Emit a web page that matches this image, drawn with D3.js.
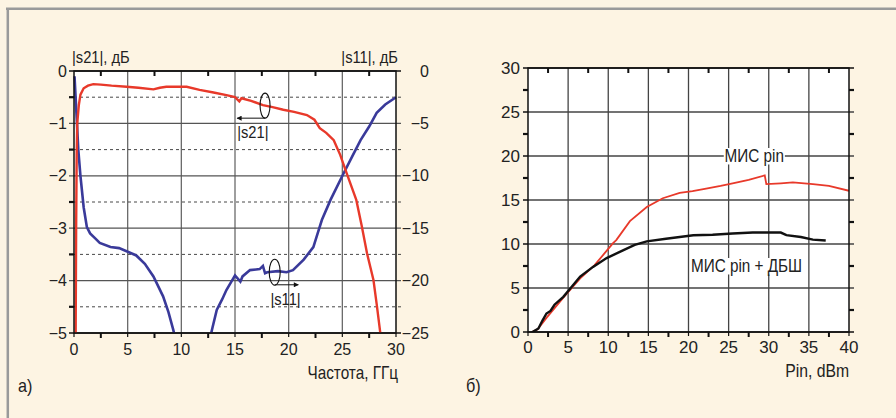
<!DOCTYPE html>
<html><head><meta charset="utf-8">
<script src="https://cdn.jsdelivr.net/npm/d3@7"></script>
<style>
html,body{margin:0;padding:0;background:#fdf4e3;}
svg{display:block;}
text{font-family:"Liberation Sans",Arial,sans-serif;fill:#222;}
</style></head>
<body>
<svg id="chart" width="896" height="418"></svg>
<script>
// ---------- data: panel a) ----------
const freqTicks = [0,5,10,15,20,25,30];
const s21Ticks = [0,-1,-2,-3,-4,-5];
const s11Ticks = [0,-5,-10,-15,-20,-25];
// |s21| (dB) vs frequency (GHz)
const s21 = [[0.15,-5.2],[0.2,-3],[0.25,-1.6],[0.3,-1.0],[0.45,-0.65],[0.6,-0.45],[0.9,-0.33],[1.3,-0.28],[1.8,-0.25],[2.5,-0.26],[3.5,-0.28],[4.9,-0.30],[6,-0.32],[7.4,-0.35],[8.0,-0.32],[8.6,-0.30],[10.5,-0.30],[11.7,-0.36],[13,-0.41],[14.2,-0.46],[15.0,-0.50],[15.4,-0.58],[15.6,-0.52],[16.5,-0.57],[17.6,-0.65],[18.5,-0.69],[19.5,-0.74],[20.5,-0.78],[21.7,-0.84],[22.4,-0.93],[22.9,-1.09],[23.5,-1.18],[24.2,-1.32],[24.8,-1.6],[25.4,-1.95],[26.3,-2.46],[26.8,-2.95],[27.3,-3.48],[27.9,-3.99],[28.2,-4.45],[28.6,-5.1]];
// |s11| (dB) vs frequency (GHz)
const s11 = [[0.05,-0.5],[0.15,-2.5],[0.25,-4.5],[0.4,-7.5],[0.6,-10],[0.9,-13],[1.2,-14.9],[1.5,-15.5],[2.0,-16.0],[2.4,-16.4],[3.4,-16.8],[4.2,-16.9],[4.9,-17.2],[5.8,-17.6],[6.6,-18.4],[7.4,-19.6],[8.3,-21.5],[8.8,-23],[9.25,-24.7],[9.5,-25.8],[12.6,-25.8],[12.9,-24.5],[13.3,-22.8],[13.8,-21.8],[14.2,-20.9],[15.0,-19.5],[15.5,-20.1],[15.7,-19.6],[16.4,-19.0],[17.3,-18.9],[17.6,-18.6],[17.8,-19.3],[18.0,-19.2],[19.0,-19.1],[19.8,-19.2],[20.4,-19.0],[21.4,-18.0],[22.3,-16.8],[22.7,-15.5],[23.1,-14.2],[23.9,-12.3],[25.1,-9.8],[25.9,-8.2],[26.7,-6.6],[27.5,-5.3],[28.2,-4.0],[29.0,-3.2],[30,-2.5]];

// ---------- data: panel б) ----------
const pinTicks = [0,5,10,15,20,25,30,35,40];
const poutTicks = [0,5,10,15,20,25,30];
// МИС pin
const misPin = [[0.5,0],[1.2,0.3],[2.3,1.6],[4.4,3.9],[6.5,6.1],[8.3,7.6],[9.5,8.9],[10.6,10.1],[11.0,10.45],[12.7,12.6],[14.8,14.2],[16.8,15.2],[18.9,15.8],[20.5,16.0],[22.2,16.3],[24,16.6],[25.5,16.9],[27.5,17.3],[29.5,17.8],[29.7,16.8],[31.5,16.9],[33.0,17.0],[35.5,16.8],[37.5,16.6],[40.0,16.05]];
// МИС pin + ДБШ
const misPinDbsh = [[0.4,-0.1],[1.3,0.4],[1.8,1.3],[2.3,2.1],[2.8,2.4],[3.3,3.1],[4.4,4.0],[5.5,5.2],[6.5,6.3],[8.1,7.4],[9.8,8.4],[11.9,9.3],[13.3,9.9],[14.8,10.3],[17.2,10.6],[20.6,11.0],[23,11.05],[25.5,11.2],[28,11.3],[30.1,11.3],[31.5,11.3],[32.2,11.0],[34,10.8],[35.5,10.5],[37.1,10.4]];

// ---------- drawing ----------
const svg = d3.select("#chart");
// condensed text helper
function ctext(parent, x, y, s, size, sx, anchor){
  return parent.append("text")
    .attr("transform",`translate(${x},${y}) scale(${sx},1)`)
    .attr("text-anchor",anchor||"start").attr("font-size",size).text(s);
}
// page border
svg.append("line").attr("x1",6).attr("x2",896).attr("y1",8.8).attr("y2",8.8).attr("stroke","#9a9a9a").attr("stroke-width",2.5);
svg.append("line").attr("x1",7.8).attr("x2",7.8).attr("y1",8).attr("y2",418).attr("stroke","#9a9a9a").attr("stroke-width",2.5);

// ===== Panel a =====
const ax = d3.scaleLinear().domain([0,30]).range([74,396]);
const ay = d3.scaleLinear().domain([-5,0]).range([333,71]);
const ay2 = d3.scaleLinear().domain([-25,0]).range([333,71]);
const gA = svg.append("g");
gA.append("rect").attr("x",ax(0)).attr("y",ay(0)).attr("width",ax(30)-ax(0)).attr("height",ay(-5)-ay(0)).attr("fill","#fff");
gA.selectAll(".vg").data(freqTicks.slice(1,-1)).join("line")
  .attr("x1",d=>ax(d)).attr("x2",d=>ax(d)).attr("y1",ay(0)).attr("y2",ay(-5))
  .attr("stroke","#6a6a6a").attr("stroke-width",1.3);
gA.selectAll(".hg").data(s21Ticks.slice(1,-1)).join("line")
  .attr("x1",ax(0)-5).attr("x2",ax(30)+5).attr("y1",d=>ay(d)).attr("y2",d=>ay(d))
  .attr("stroke","#555").attr("stroke-width",1.3);
const halfA = [-0.5,-1.5,-2.5,-3.5,-4.5];
gA.selectAll(".dg").data(halfA).join("line")
  .attr("x1",ax(0)).attr("x2",ax(30)+5).attr("y1",d=>ay(d)).attr("y2",d=>ay(d))
  .attr("stroke","#333").attr("stroke-width",0.9).attr("stroke-dasharray","3,3");
gA.selectAll(".lm").data(halfA).join("line")
  .attr("x1",ax(0)-5).attr("x2",ax(0)).attr("y1",d=>ay(d)).attr("y2",d=>ay(d))
  .attr("stroke","#111").attr("stroke-width",2.2);
gA.selectAll(".mt").data([0,-5]).join("line")
  .attr("x1",ax(0)-5).attr("x2",ax(30)+5).attr("y1",d=>ay(d)).attr("y2",d=>ay(d))
  .attr("stroke","#111").attr("stroke-width",1.5);
const halfX = [2.5,7.5,12.5,17.5,22.5,27.5];
gA.selectAll(".tx").data(halfX).join("line")
  .attr("x1",d=>ax(d)).attr("x2",d=>ax(d)).attr("y1",ay(0)).attr("y2",ay(0)+5)
  .attr("stroke","#111").attr("stroke-width",2);
gA.selectAll(".bx").data(halfX).join("line")
  .attr("x1",d=>ax(d)).attr("x2",d=>ax(d)).attr("y1",ay(-5)).attr("y2",ay(-5)+5)
  .attr("stroke","#111").attr("stroke-width",2);
gA.selectAll(".bxm").data(freqTicks).join("line")
  .attr("x1",d=>ax(d)).attr("x2",d=>ax(d)).attr("y1",ay(-5)).attr("y2",ay(-5)+4)
  .attr("stroke","#111").attr("stroke-width",1.2);
svg.append("clipPath").attr("id","clipA").append("rect")
  .attr("x",ax(0)-1).attr("y",ay(0)).attr("width",ax(30)-ax(0)+2).attr("height",ay(-5)-ay(0));
const lineS21 = d3.line().x(d=>ax(d[0])).y(d=>ay(d[1]));
const lineS11 = d3.line().x(d=>ax(d[0])).y(d=>ay2(d[1]));
gA.append("path").datum(s11).attr("d",lineS11).attr("fill","none").attr("stroke","#3a3a9a").attr("stroke-width",2.6).attr("clip-path","url(#clipA)");
gA.append("path").datum(s21).attr("d",lineS21).attr("fill","none").attr("stroke","#e8392a").attr("stroke-width",2.4).attr("clip-path","url(#clipA)");
gA.append("rect").attr("x",ax(0)).attr("y",ay(0)).attr("width",ax(30)-ax(0)).attr("height",ay(-5)-ay(0)).attr("fill","none").attr("stroke","#111").attr("stroke-width",1.5);
const fmt = d => d<0 ? "\u2212"+Math.abs(d) : String(d);
gA.selectAll(".yl").data(s21Ticks).join("text")
  .attr("x",ax(0)-7).attr("y",d=>ay(d)).attr("dy","0.35em").attr("text-anchor","end")
  .attr("font-size",16).text(fmt);
gA.selectAll(".yr").data(s11Ticks).join("text")
  .attr("x",ax(30)+33).attr("y",d=>ay2(d)).attr("dy","0.35em").attr("text-anchor","end")
  .attr("font-size",16).text(fmt);
gA.selectAll(".xl").data(freqTicks).join("text")
  .attr("x",d=>ax(d)).attr("y",ay(-5)+22).attr("text-anchor","middle")
  .attr("font-size",16).text(d=>d);
ctext(gA, ax(0)-2, 63, "|s21|, дБ", 16, 0.92, "start");
ctext(gA, ax(30)+2, 63, "|s11|, дБ", 16, 0.92, "end");
ctext(gA, ax(30)+2, 379, "Частота, ГГц", 18, 0.85, "end");
ctext(svg, 18, 392, "а)", 18, 0.9, "start");
const defs = svg.append("defs");
defs.append("marker").attr("id","arr").attr("viewBox","0 0 10 10").attr("refX",9).attr("refY",5)
  .attr("markerWidth",7).attr("markerHeight",5).attr("orient","auto")
  .append("path").attr("d","M0,0L10,5L0,10z").attr("fill","#111");
gA.append("ellipse").attr("cx",ax(17.8)).attr("cy",ay(-0.66)).attr("rx",5).attr("ry",12.5).attr("fill","none").attr("stroke","#111").attr("stroke-width",1.1);
gA.append("line").attr("x1",ax(17.8)).attr("x2",ax(15.2)).attr("y1",ay(-0.9)).attr("y2",ay(-0.9)).attr("stroke","#111").attr("stroke-width",1).attr("marker-end","url(#arr)");
ctext(gA, ax(15.2), ay(-1.28), "|s21|", 16, 0.92, "start");
gA.append("ellipse").attr("cx",ax(18.7)).attr("cy",ay2(-19.2)).attr("rx",5.5).attr("ry",13).attr("fill","none").attr("stroke","#111").attr("stroke-width",1.1);
gA.append("line").attr("x1",ax(18.7)).attr("x2",ax(20.9)).attr("y1",ay2(-20.4)).attr("y2",ay2(-20.4)).attr("stroke","#111").attr("stroke-width",1).attr("marker-end","url(#arr)");
ctext(gA, ax(18.3), ay2(-22.3), "|s11|", 16, 0.92, "start");

// ===== Panel b =====
const bx = d3.scaleLinear().domain([0,40]).range([528,849]);
const by = d3.scaleLinear().domain([0,30]).range([332,68]);
const gB = svg.append("g");
gB.append("rect").attr("x",bx(0)).attr("y",by(30)).attr("width",bx(40)-bx(0)).attr("height",by(0)-by(30)).attr("fill","#fff");
gB.selectAll(".vg").data(pinTicks.slice(1,-1)).join("line")
  .attr("x1",d=>bx(d)).attr("x2",d=>bx(d)).attr("y1",by(30)).attr("y2",by(0))
  .attr("stroke","#444").attr("stroke-width",1.3);
gB.selectAll(".hg").data(poutTicks.slice(1,-1)).join("line")
  .attr("x1",bx(0)).attr("x2",bx(40)+5).attr("y1",d=>by(d)).attr("y2",d=>by(d))
  .attr("stroke","#444").attr("stroke-width",1.3);
gB.selectAll(".mt").data([0,30]).join("line")
  .attr("x1",bx(0)-5).attr("x2",bx(40)+5).attr("y1",d=>by(d)).attr("y2",d=>by(d))
  .attr("stroke","#111").attr("stroke-width",1.5);
gB.selectAll(".lt").data(poutTicks.slice(1,-1)).join("line")
  .attr("x1",bx(0)-5).attr("x2",bx(0)).attr("y1",d=>by(d)).attr("y2",d=>by(d))
  .attr("stroke","#111").attr("stroke-width",1.5);
const halfY = [2.5,7.5,12.5,17.5,22.5,27.5];
gB.selectAll(".lm").data(halfY).join("line")
  .attr("x1",bx(0)-5).attr("x2",bx(0)).attr("y1",d=>by(d)).attr("y2",d=>by(d))
  .attr("stroke","#111").attr("stroke-width",2.2);
gB.selectAll(".rm").data(halfY).join("line")
  .attr("x1",bx(40)).attr("x2",bx(40)+5).attr("y1",d=>by(d)).attr("y2",d=>by(d))
  .attr("stroke","#111").attr("stroke-width",2.2);
const halfP = [2.5,7.5,12.5,17.5,22.5,27.5,32.5,37.5];
gB.selectAll(".tx").data(halfP).join("line")
  .attr("x1",d=>bx(d)).attr("x2",d=>bx(d)).attr("y1",by(30)).attr("y2",by(30)+5)
  .attr("stroke","#111").attr("stroke-width",2);
gB.selectAll(".bx").data(halfP).join("line")
  .attr("x1",d=>bx(d)).attr("x2",d=>bx(d)).attr("y1",by(0)).attr("y2",by(0)+5)
  .attr("stroke","#111").attr("stroke-width",2);
gB.selectAll(".bxm").data(pinTicks).join("line")
  .attr("x1",d=>bx(d)).attr("x2",d=>bx(d)).attr("y1",by(0)).attr("y2",by(0)+4)
  .attr("stroke","#111").attr("stroke-width",1.2);
const lineB = d3.line().x(d=>bx(d[0])).y(d=>by(d[1]));
svg.append("clipPath").attr("id","clipB").append("rect")
  .attr("x",bx(0)).attr("y",by(30)).attr("width",bx(40)-bx(0)).attr("height",by(0)-by(30));
gB.append("path").datum(misPin).attr("d",lineB).attr("fill","none").attr("stroke","#e8392a").attr("stroke-width",1.8).attr("clip-path","url(#clipB)");
gB.append("path").datum(misPinDbsh).attr("d",lineB).attr("fill","none").attr("stroke","#111").attr("stroke-width",2.4).attr("clip-path","url(#clipB)");
gB.append("rect").attr("x",bx(0)).attr("y",by(30)).attr("width",bx(40)-bx(0)).attr("height",by(0)-by(30)).attr("fill","none").attr("stroke","#111").attr("stroke-width",1.5);
gB.selectAll(".yl").data(poutTicks).join("text")
  .attr("x",bx(0)-8).attr("y",d=>by(d)).attr("dy","0.35em").attr("text-anchor","end")
  .attr("font-size",17).text(d=>d);
gB.selectAll(".xl").data(pinTicks).join("text")
  .attr("x",d=>bx(d)).attr("y",by(0)+21).attr("text-anchor","middle")
  .attr("font-size",17).text(d=>d);
ctext(gB, bx(40), 377, "Pin, dBm", 17.5, 0.9, "end");
ctext(svg, 466, 392, "б)", 18, 0.9, "start");
function boxLabel(x, y, s){
  const t = ctext(gB, x, y, s, 18, 0.85, "start");
  const bb = t.node().getBBox();
  gB.insert("rect","text").attr("transform",`translate(${x},${y}) scale(0.85,1)`)
    .attr("x",bb.x-1).attr("y",bb.y+2).attr("width",bb.width+2).attr("height",bb.height-4).attr("fill","#fff");
  t.raise();
}
boxLabel(bx(24.5), by(19.3), "МИС pin");
boxLabel(bx(20.3), by(6.8), "МИС pin + ДБШ");
</script>
</body></html>
